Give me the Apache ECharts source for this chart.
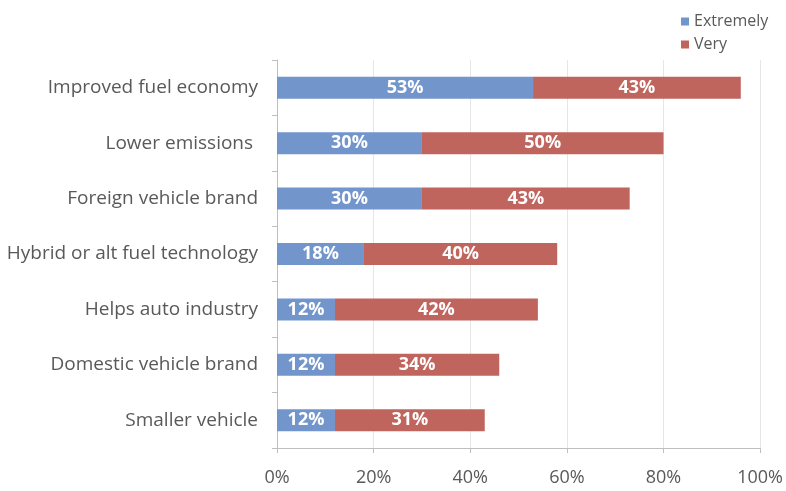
<!DOCTYPE html>
<html>
<head>
<meta charset="utf-8">
<script src="https://cdn.jsdelivr.net/npm/echarts@6/dist/echarts.min.js"></script>
<style>
  html, body { margin: 0; padding: 0; background: #fff; }
  #main { width: 786px; height: 491px; }
</style>
</head>
<body>
<div id="main"></div>
<script>
var categories = ['Improved fuel economy', 'Lower emissions ', 'Foreign vehicle brand',
  'Hybrid or alt fuel technology', 'Helps auto industry', 'Domestic vehicle brand', 'Smaller vehicle'];
var extremely = [53, 30, 30, 18, 12, 12, 12];
var very = [43, 50, 43, 40, 42, 34, 31];
var xTicks = [0, 20, 40, 60, 80, 100];

var myChart = echarts.init(document.getElementById('main'));

var barLabel = {
  show: true,
  position: 'inside',
  color: '#fff',
  fontWeight: 'bold',
  fontSize: 18,
  fontFamily: 'Open Sans',
  formatter: '{c}%'
};

var option = {
  animation: false,
  backgroundColor: '#fff',
  legend: {
    data: ['Extremely', 'Very'],
    orient: 'vertical',
    left: 676,
    top: 8,
    itemWidth: 8,
    itemHeight: 8,
    itemGap: 6,
    icon: 'rect',
    textStyle: { color: '#595959', fontSize: 16, lineHeight: 17, fontFamily: 'Open Sans' }
  },
  grid: { left: 277, right: 24, top: 60, bottom: 43 },
  xAxis: {
    type: 'value',
    min: 0,
    max: 100,
    interval: 20,
    axisLine: { show: true, lineStyle: { color: '#bfbfbf' } },
    axisTick: { show: true, length: 5, lineStyle: { color: '#bfbfbf' } },
    splitLine: { show: true, lineStyle: { color: '#e6e6e6' } },
    axisLabel: {
      color: '#595959',
      fontSize: 18,
      fontFamily: 'Open Sans',
      margin: 21,
      formatter: function (v) { return xTicks.indexOf(v) >= 0 ? v + '%' : ''; }
    }
  },
  yAxis: {
    type: 'category',
    inverse: true,
    data: categories,
    axisLine: { show: true, lineStyle: { color: '#bfbfbf' } },
    axisTick: { show: true, length: 5, lineStyle: { color: '#bfbfbf' } },
    axisLabel: { color: '#595959', fontSize: 19, fontFamily: 'Open Sans', margin: 19, padding: [4, 0, 0, 0] }
  },
  series: [
    {
      name: 'Extremely',
      type: 'bar',
      stack: 'total',
      data: extremely,
      barWidth: 22,
      itemStyle: { color: '#7295cc' },
      label: barLabel
    },
    {
      name: 'Very',
      type: 'bar',
      stack: 'total',
      data: very,
      barWidth: 22,
      itemStyle: { color: '#c0645e' },
      label: barLabel
    }
  ]
};

myChart.setOption(option);
</script>
</body>
</html>
